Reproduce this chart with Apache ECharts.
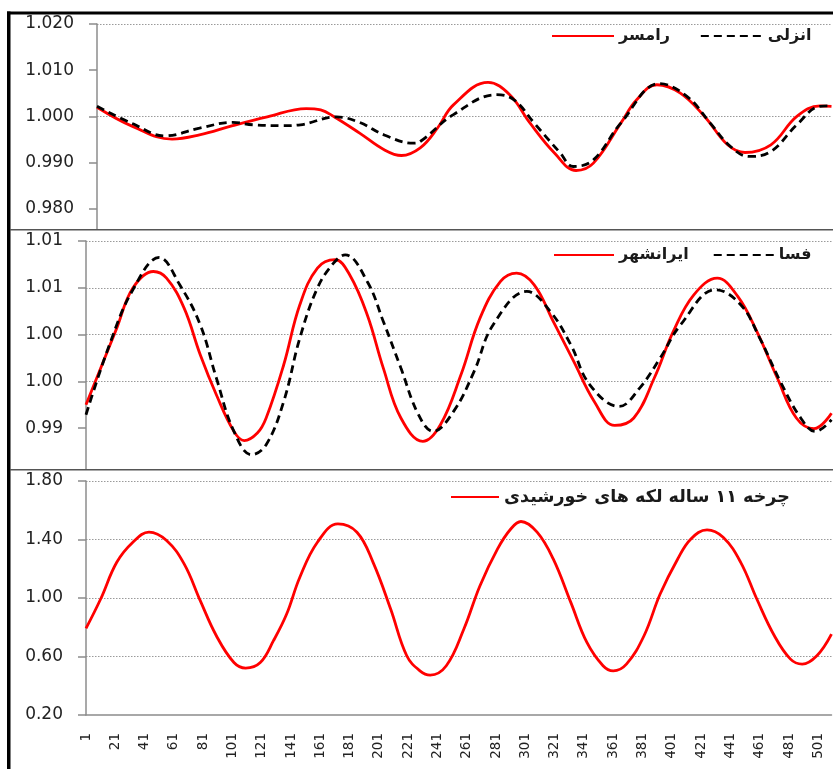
<!DOCTYPE html>
<html><head><meta charset="utf-8">
<script src="https://cdn.jsdelivr.net/npm/echarts@6/dist/echarts.min.js"></script>
<style>html,body{margin:0;padding:0;background:#fff}#c{width:833px;height:769px}</style>
</head><body><div id="c"></div>
<script>
// ---- data (x = sample index starting at 0; axis labels show index+1) ----
const ramsarIdx = [0,25,52,71,94,118,145,155,164,182,199,211,224,236,247,271,286,300,317,332,344,363,374,388,404,421,437,449,467,485,501,509];
const ramsarVal = [1.0020,0.9978,0.9951,0.9960,0.9980,0.9999,1.0017,1.0014,1.0000,0.9964,0.9928,0.99155,0.9932,0.9975,1.0025,1.00736,1.0047,0.9986,0.9921,0.9883,0.9899,0.99856,1.0036,1.00686,1.0051,1.0000,0.99386,0.9922,0.99386,1.0000,1.0023,1.0022];
const anzaliIdx = [0,25,47,71,94,108,129,141,166,182,199,219,224,247,277,289,303,321,330,344,363,390,409,425,439,452,467,485,501,509];
const anzaliVal = [1.0022,0.9984,0.9958,0.99747,0.9987,0.9982,0.9980,0.9982,0.9999,0.9987,0.9960,0.99422,0.99458,1.0004,1.0047,1.0036,0.99856,0.9921,0.98917,0.99061,0.99856,1.0071,1.0043,0.99856,0.9935,0.99134,0.99242,0.9982,1.0022,1.0023];
const iranshahrIdx = [0,21,32,46,55,67,78,89,101,108,117,123,135,146,158,170,180,192,203,215,230,242,256,269,283,294,306,319,333,347,361,374,388,401,415,431,445,458,472,485,497,509];
const iranshahrVal = [0.99751,1.00569,1.00997,1.01174,1.01103,1.00783,1.00285,0.99858,0.99466,0.99367,0.99448,0.99609,1.00178,1.00819,1.0121,1.0130,1.01139,1.00712,1.00142,0.99609,0.9936,0.99537,1.00071,1.00676,1.01068,1.01157,1.01032,1.00641,1.00214,0.99786,0.99530,0.99609,1.00036,1.00534,1.00925,1.01103,1.00908,1.00534,1.00036,0.99609,0.99495,0.9966];
const fasaIdx = [0,16,32,50,64,78,89,101,113,123,135,146,158,169,177,192,203,215,227,237,251,265,278,301,317,331,344,364,378,392,406,430,447,460,474,488,498,509];
const fasaVal = [0.99644,1.00391,1.00979,1.01324,1.01032,1.00605,1.00036,0.99466,0.99217,0.99324,0.99786,1.00463,1.00997,1.01263,1.01352,1.01068,1.0064,1.00142,0.99644,0.99466,0.9968,1.00107,1.00605,1.00961,1.00747,1.00391,0.99964,0.99733,0.99929,1.00249,1.00605,1.00979,1.00819,1.00463,1.0000,0.99609,0.99466,0.9959];
const sunspotIdx = [0,10,21,32,43,55,67,78,89,101,109,119,128,137,146,158,172,185,196,208,219,228,235,246,258,269,281,290,297,308,319,331,342,353,360,369,381,392,404,413,424,435,447,458,470,481,489,499,509];
const sunspotVal = [0.792,0.993,1.244,1.381,1.450,1.393,1.233,0.982,0.742,0.559,0.521,0.559,0.708,0.890,1.142,1.381,1.507,1.450,1.244,0.925,0.605,0.502,0.473,0.537,0.788,1.084,1.336,1.472,1.523,1.450,1.267,0.970,0.696,0.537,0.502,0.548,0.742,1.027,1.267,1.404,1.466,1.415,1.244,0.993,0.742,0.582,0.548,0.605,0.753];

const xTickLabels = ['1','21','41','61','81','101','121','141','161','181','201','221','241','261','281','301','321','341','361','381','401','421','441','461','481','501'];
const p1TickValues = [0.98,0.99,1.00,1.01,1.02];
const p1TickLabels = ['0.980','0.990','1.000','1.010','1.020'];
const p2TickValues = [0.995,1.000,1.005,1.010,1.015];
const p2TickLabels = ['0.99','1.00','1.00','1.01','1.01'];
const p3TickValues = [0.2,0.6,1.0,1.4,1.8];
const p3TickLabels = ['0.20','0.60','1.00','1.40','1.80'];

const names = {
  ramsar: 'رامسر', anzali: 'انزلی', iranshahr: 'ایرانشهر', fasa: 'فسا',
  sunspot: 'چرخه ۱۱ ساله لکه های خورشیدی'
};

// ---- build ----
const zip = (a, b) => a.map((x, i) => [x, b[i]]);
const lookup = (vals, labs) => v => {
  for (let i = 0; i < vals.length; i++) if (Math.abs(v - vals[i]) < 1e-6) return labs[i];
  return '';
};
const FONT = 'DejaVu Sans';
const labelColor = '#222';
const gridColor = '#9a9a9a';
const axisColor = '#8c8c8c';
const RED = '#ff0000';

function xAxis(gridIndex, showLabels) {
  return {
    type: 'value', gridIndex, min: 0, max: 509, interval: 20,
    axisLine: { show: showLabels, lineStyle: { color: axisColor, width: 1.5 } },
    axisTick: { show: false },
    splitLine: { show: false },
    axisLabel: {
      show: showLabels, rotate: 90, margin: 18, showMaxLabel: false,
      fontFamily: FONT, fontSize: 13.5, color: labelColor,
      formatter: v => xTickLabels[Math.round(v / 20)] || ''
    }
  };
}
// axis with line, ticks and grid lines
function yAxis(gridIndex, min, max, interval, vals, splitColors) {
  return {
    type: 'value', gridIndex, min, max, interval,
    axisLine: { show: true, lineStyle: { color: axisColor, width: 1.5 } },
    axisTick: { show: true, length: 8, customValues: vals, lineStyle: { color: axisColor, width: 1.5 } },
    splitLine: { show: true, showMinLine: false, lineStyle: { color: splitColors, type: [1.5, 1.5], width: 1 } },
    axisLabel: { show: false }
  };
}
// companion axis on the same scale that only carries the tick labels
function yLabelAxis(gridIndex, min, max, interval, vals, labs) {
  return {
    type: 'value', gridIndex, min, max, interval, position: 'left', offset: 15,
    axisLine: { show: false }, axisTick: { show: false }, splitLine: { show: false },
    axisLabel: {
      margin: 8, fontFamily: FONT, fontSize: 17, color: labelColor,
      showMinLabel: true, formatter: lookup(vals, labs)
    }
  };
}
function line(name, xi, yi, idx, vals, color, dashed) {
  return {
    name, type: 'line', xAxisIndex: xi, yAxisIndex: yi,
    data: zip(idx, vals), smooth: 0.4, symbol: 'none', showSymbol: false,
    lineStyle: { color, width: 2.8, type: dashed ? [8, 5] : 'solid' },
    itemStyle: { color }, z: dashed ? 3 : 2, animation: false
  };
}
const legendText = { fontFamily: FONT, fontSize: 16, fontWeight: 'bold', color: '#1a1a1a' };
const legendBase = { itemHeight: 14, selectedMode: false, itemStyle: { opacity: 0 } };

const option = {
  animation: false,
  backgroundColor: '#fff',
  grid: [
    { left: 97, right: 1.5, top: 24, height: 208 },
    { left: 86, right: 1.5, top: 241, height: 234 },
    { left: 86, right: 1.5, top: 481, height: 234 }
  ],
  xAxis: [xAxis(0, false), xAxis(1, false), xAxis(2, true)],
  yAxis: [
    yAxis(0, 0.975, 1.02, 0.005, p1TickValues, ['rgba(0,0,0,0)', gridColor]),
    yAxis(1, 0.99, 1.015, 0.005, p2TickValues, [gridColor]),
    yAxis(2, 0.2, 1.8, 0.4, p3TickValues, [gridColor]),
    yLabelAxis(0, 0.975, 1.02, 0.005, p1TickValues, p1TickLabels),
    yLabelAxis(1, 0.99, 1.015, 0.005, p2TickValues, p2TickLabels),
    yLabelAxis(2, 0.2, 1.8, 0.4, p3TickValues, p3TickLabels)
  ],
  legend: [
    Object.assign({}, legendBase, { data: [names.ramsar, names.anzali], left: 546, top: 23, itemWidth: 62, itemGap: 30, textStyle: legendText }),
    Object.assign({}, legendBase, { data: [names.iranshahr, names.fasa], left: 548, top: 242, itemWidth: 60, itemGap: 24, textStyle: legendText }),
    Object.assign({}, legendBase, { data: [names.sunspot], left: 445, top: 483, itemWidth: 48, textStyle: Object.assign({}, legendText, { fontSize: 17.5 }) })
  ],
  series: [
    line(names.ramsar, 0, 0, ramsarIdx, ramsarVal, RED, false),
    line(names.anzali, 0, 0, anzaliIdx, anzaliVal, '#000', true),
    line(names.iranshahr, 1, 1, iranshahrIdx, iranshahrVal, RED, false),
    line(names.fasa, 1, 1, fasaIdx, fasaVal, '#000', true),
    line(names.sunspot, 2, 2, sunspotIdx, sunspotVal, RED, false)
  ],
  graphic: [
    { type: 'rect', z: 99, shape: { x: 90, y: 230, width: 12, height: 5 }, style: { fill: '#fff' } },
    { type: 'rect', z: 99, shape: { x: 79, y: 470, width: 12, height: 7 }, style: { fill: '#fff' } },
    { type: 'rect', z: 100, shape: { x: 7, y: 11.5, width: 826, height: 3 }, style: { fill: '#000' } },
    { type: 'rect', z: 100, shape: { x: 7, y: 11.5, width: 3.5, height: 760 }, style: { fill: '#000' } },
    { type: 'rect', z: 100, shape: { x: 10, y: 229, width: 823, height: 1.5 }, style: { fill: '#555' } },
    { type: 'rect', z: 100, shape: { x: 10, y: 469, width: 823, height: 1.5 }, style: { fill: '#555' } }
  ]
};
const chart = echarts.init(document.getElementById('c'), null, { renderer: 'canvas' });
chart.setOption(option);
</script></body></html>
